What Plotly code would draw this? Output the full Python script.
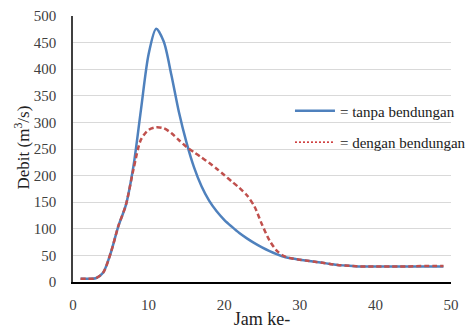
import plotly.graph_objects as go

hours = list(range(1, 50))
tanpa = [6, 6, 7, 18, 55, 105, 145, 218, 325, 428,
         476, 452, 390, 320, 263, 216, 180, 153, 133, 117,
         104, 92, 82, 73, 65, 58, 52, 47, 44, 42,
         40, 38, 36, 34, 32, 31, 30, 29, 29, 29,
         29, 29, 29, 29, 29, 29, 29, 29, 29]
dengan = [6, 6, 7, 18, 55, 105, 145, 212, 268, 286,
          291, 289, 280, 267, 254, 244, 234, 224, 213, 201,
          189, 177, 163, 142, 108, 78, 58, 48, 44, 42,
          40, 38, 36, 34, 32, 31, 30, 29, 29, 29,
          29, 29, 29, 29, 29.5, 30, 30, 30, 30]
x_ticks = [0, 10, 20, 30, 40, 50]
y_ticks = list(range(0, 501, 50))
names = ["= tanpa bendungan", "= dengan bendungan"]
y_title = "Debit (m<sup>3</sup>/s)"
x_title = "Jam ke-"

BLUE = "#4f81bd"
RED = "#c0504d"
FONT = "Liberation Serif, serif"

fig = go.Figure()
fig.add_trace(go.Scatter(x=hours, y=tanpa, mode="lines", showlegend=False,
                         line=dict(color=BLUE, width=2.5, shape="spline", smoothing=0.8)))
fig.add_trace(go.Scatter(x=hours, y=dengan, mode="lines", showlegend=False,
                         line=dict(color=RED, width=2.5, shape="spline", smoothing=0.8,
                                   dash="5px,3px")))
# legend entries
fig.add_trace(go.Scatter(x=[None], y=[None], mode="lines", name=names[0], legendgroup="a",
                         line=dict(color=BLUE, width=2.5)))
fig.add_trace(go.Scatter(x=[None], y=[None], mode="lines", name=names[1], legendgroup="b",
                         line=dict(color="#c00000", width=1.2, dash="2px,2px")))

fig.add_annotation(text=y_title, textangle=-90, xref="paper", yref="paper",
                   x=-0.136, y=0.504, xanchor="center", yanchor="middle", showarrow=False,
                   font=dict(family=FONT, size=17, color="#222222"))

fig.update_layout(
    width=470, height=334,
    margin=dict(l=73, r=19, t=16, b=52, autoexpand=False),
    paper_bgcolor="white", plot_bgcolor="white",
    font=dict(family=FONT, size=15, color="#404040"),
    legend=dict(x=0.574, y=0.705, xanchor="left", yanchor="top",
                bgcolor="rgba(0,0,0,0)", font=dict(family=FONT, size=15, color="#1a1a1a"),
                tracegroupgap=9, itemwidth=40),
    xaxis=dict(range=[0, 50], tickvals=x_ticks, showgrid=False, zeroline=False,
               showline=True, linecolor="#000000", linewidth=2, ticks="",
               ticklabelstandoff=8, automargin=False,
               tickfont=dict(family=FONT, size=15, color="#404040"),
               title=dict(text=x_title, font=dict(family=FONT, size=18, color="#222222"),
                          standoff=0)),
    yaxis=dict(range=[0, 500], tickvals=y_ticks, showgrid=True, gridcolor="#d9d9d9",
               gridwidth=1, zeroline=False, showline=True, linecolor="#404040",
               linewidth=1.5, ticks="", ticklabelstandoff=12, automargin=False,
               tickfont=dict(family=FONT, size=15, color="#404040")),
)

fig.write_html("out.html", config={"displayModeBar": False},
               post_script="document.body.style.margin='0';document.body.style.padding='0';")
